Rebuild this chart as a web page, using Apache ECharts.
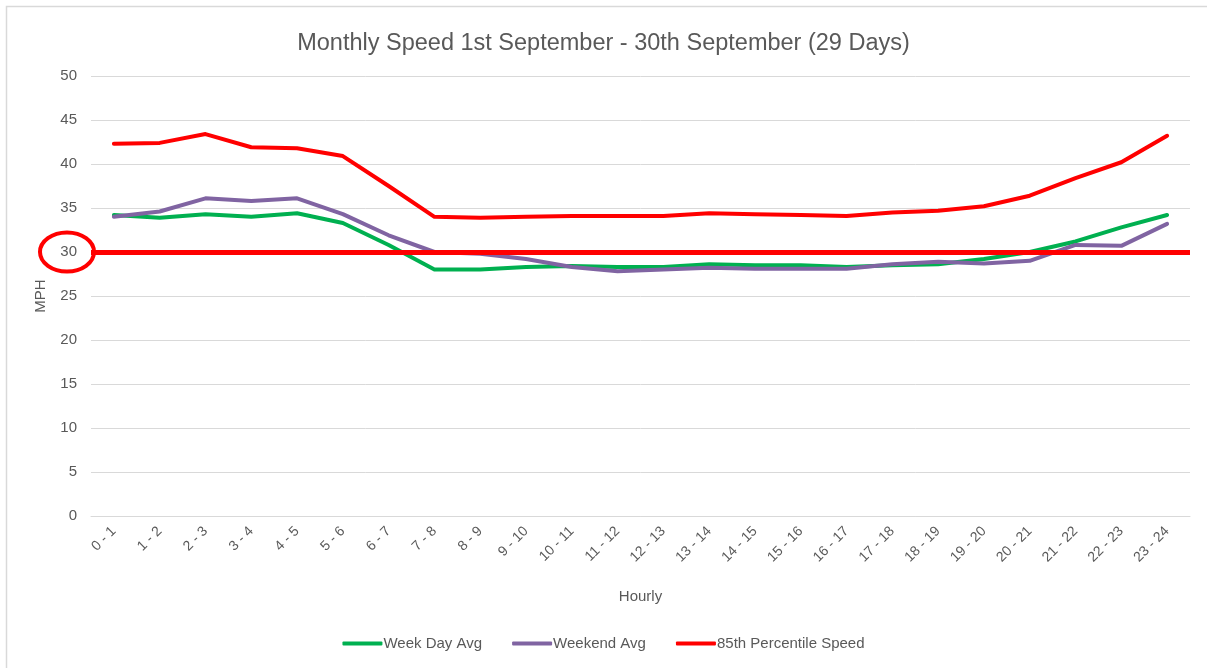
<!DOCTYPE html>
<html>
<head>
<meta charset="utf-8">
<script src="https://cdn.jsdelivr.net/npm/echarts@6/dist/echarts.min.js"></script>
<style>
  html, body { margin: 0; padding: 0; background: #fff; }
  #chart { width: 1207px; height: 668px; }
</style>
</head>
<body>
<div id="chart"></div>
<script>
// hour buckets along the x axis
const hours = ['0 - 1', '1 - 2', '2 - 3', '3 - 4', '4 - 5', '5 - 6', '6 - 7', '7 - 8', '8 - 9', '9 - 10',
  '10 - 11', '11 - 12', '12 - 13', '13 - 14', '14 - 15', '15 - 16', '16 - 17', '17 - 18', '18 - 19',
  '19 - 20', '20 - 21', '21 - 22', '22 - 23', '23 - 24']

const weekDayAvg = [34.2, 33.9, 34.3, 34.0, 34.4, 33.3, 30.8, 28.0, 28.0, 28.3, 28.4, 28.3, 28.3, 28.6,
  28.5, 28.5, 28.3, 28.5, 28.6, 29.2, 30.0, 31.2, 32.8, 34.2]
const weekendAvg = [34.0, 34.6, 36.1, 35.8, 36.1, 34.3, 31.9, 30.0, 29.8, 29.2, 28.3, 27.8, 28.0, 28.2,
  28.1, 28.1, 28.1, 28.6, 28.9, 28.7, 29.0, 30.8, 30.7, 33.2]
const pct85 = [42.3, 42.4, 43.4, 41.9, 41.8, 40.9, 37.5, 34.0, 33.9, 34.0, 34.1, 34.1, 34.1, 34.4,
  34.3, 34.2, 34.1, 34.5, 34.7, 35.2, 36.4, 38.4, 40.2, 43.2]
const speedLimit = 30

const grey = '#595959'
const font = 'Liberation Sans'

let myChart = echarts.init(document.getElementById('chart'))

const option = {
  animation: false,
  backgroundColor: '#fff',
  title: {
    text: 'Monthly Speed 1st September - 30th September (29 Days)',
    left: 'center',
    top: 27,
    textStyle: { color: grey, fontSize: 23.5, fontWeight: 'normal', fontFamily: font }
  },
  legend: {
    bottom: 12,
    itemWidth: 40,
    itemHeight: 4,
    itemGap: 30,
    icon: 'roundRect',
    textStyle: { color: grey, fontSize: 15, fontFamily: font, padding: [0, 0, 0, -4] },
    data: ['Week Day Avg', 'Weekend Avg', '85th Percentile Speed']
  },
  grid: { left: 91, right: 17, top: 76, bottom: 152 },
  xAxis: {
    type: 'category',
    data: hours,
    name: 'Hourly',
    nameLocation: 'middle',
    nameGap: 73,
    nameTextStyle: { color: grey, fontSize: 15, fontFamily: font },
    axisLine: { lineStyle: { color: '#d9d9d9' } },
    axisTick: { show: false },
    axisLabel: { rotate: 45, color: grey, fontSize: 14, fontFamily: font, margin: 13 }
  },
  yAxis: {
    type: 'value',
    min: 0,
    max: 50,
    interval: 5,
    name: 'MPH',
    nameLocation: 'middle',
    nameGap: 43,
    nameTextStyle: { color: grey, fontSize: 15, fontFamily: font },
    axisLabel: { color: grey, fontSize: 15, fontFamily: font, margin: 14 },
    splitLine: { lineStyle: { color: '#d9d9d9', width: 1 } }
  },
  series: [
    {
      name: 'Week Day Avg', type: 'line', data: weekDayAvg, symbol: 'none',
      color: '#00B050', lineStyle: { width: 4, cap: 'round', join: 'round' }
    },
    {
      name: 'Weekend Avg', type: 'line', data: weekendAvg, symbol: 'none',
      color: '#8064A2', lineStyle: { width: 4, cap: 'round', join: 'round' }
    },
    {
      name: '85th Percentile Speed', type: 'line', data: pct85, symbol: 'none',
      color: '#FF0000', lineStyle: { width: 4, cap: 'round', join: 'round' },
      markLine: {
        silent: true,
        symbol: 'none',
        label: { show: false },
        lineStyle: { color: '#FF0000', width: 5, type: 'solid' },
        data: [{ yAxis: speedLimit }]
      }
    }
  ]
}

myChart.setOption(option)

// frame + red ring round the 30 tick label, placed from the axis scale
const y30 = myChart.convertToPixel({ yAxisIndex: 0 }, speedLimit)
myChart.setOption({
  graphic: [
    {
      type: 'rect', silent: true,
      shape: { x: 6.5, y: 6.5, width: 1400, height: 900 },
      style: { fill: 'none', stroke: '#d9d9d9', lineWidth: 1.5 }
    },
    {
      type: 'ellipse', silent: true,
      shape: { cx: 67, cy: y30, rx: 27, ry: 19.5 },
      style: { fill: 'none', stroke: '#FF0000', lineWidth: 4 }
    }
  ]
})

window.onresize = function () {
  myChart.resize()
}
</script>
</body>
</html>
